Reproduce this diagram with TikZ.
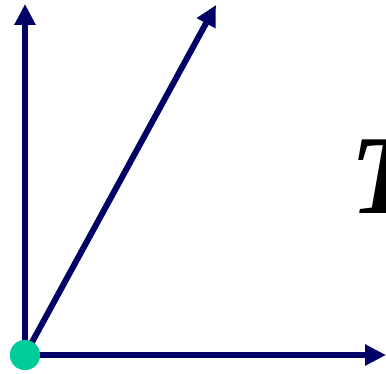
\documentclass[tikz,border=0pt]{standalone}
\usepackage{fontspec}
\setmainfont{Liberation Serif}
\usetikzlibrary{arrows.meta}
\definecolor{axisnavy}{RGB}{0,0,102}
\definecolor{dotgreen}{RGB}{0,204,153}

\begin{document}
\begin{tikzpicture}[
  vec/.style={-{Triangle[length=0.52cm, width=0.5cm]}, line width=0.15cm, draw=axisnavy},
  dot/.style={circle, fill=dotgreen, inner sep=0pt, minimum size=0.75cm},
  lbl/.style={font=\fontsize{80}{80}\selectfont\bfseries\itshape, inner sep=0pt, anchor=base west}
]
\useasboundingbox (0,0) rectangle (9.65,9.325);
\coordinate (top) at (0.625,9.225);
\coordinate (diag) at (5.4,9.2);
\coordinate (right) at (9.65,0.45);
\node[dot] (origin) at (0.625,0.45) {};

\draw[vec] (origin.center) -- (top);
\draw[vec] (origin.center) -- (diag);
\draw[vec] (origin.center) -- (right);
\node[dot] at (origin) {};

\node[lbl] (tlabel) at (8.75,3.98) {T};
\end{tikzpicture}
\end{document}
